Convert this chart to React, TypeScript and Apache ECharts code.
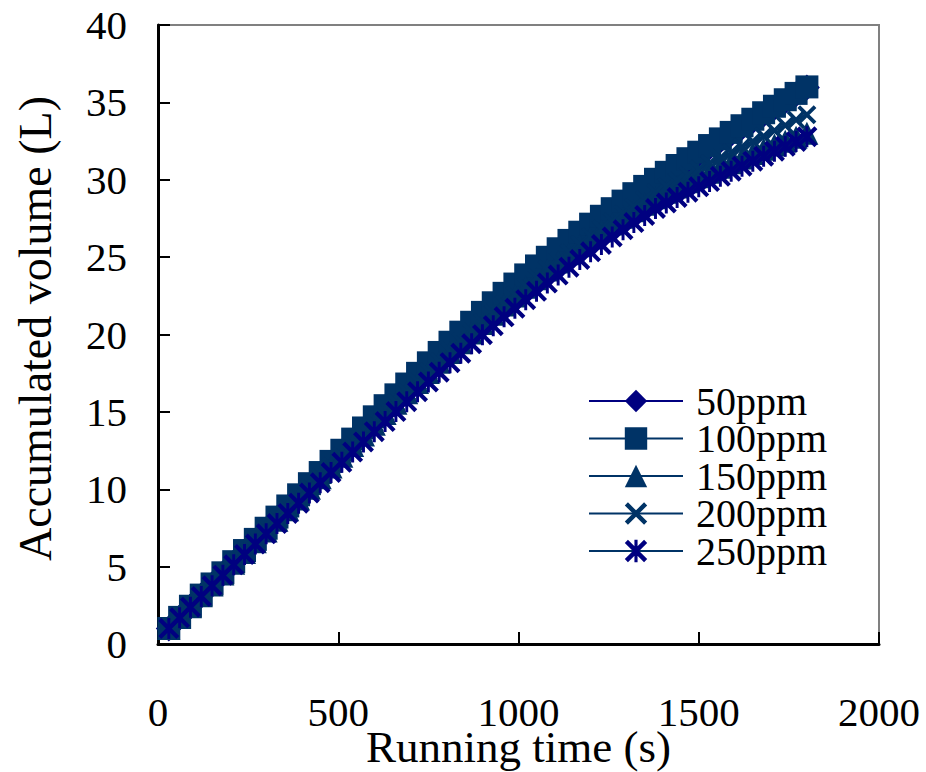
import React, { useEffect, useRef } from "react";
import * as echarts from "echarts";

const times = [30, 60, 90, 120, 150, 180, 210, 240, 270, 300, 330, 360, 390, 420, 450, 480, 510, 540, 570, 600,
  630, 660, 690, 720, 750, 780, 810, 840, 870, 900, 930, 960, 990, 1020, 1050, 1080, 1110, 1140, 1170, 1200,
  1230, 1260, 1290, 1320, 1350, 1380, 1410, 1440, 1470, 1500, 1530, 1560, 1590, 1620, 1650, 1680, 1710, 1740, 1770, 1800];

const ppm50 = [1.0, 1.71, 2.42, 3.13, 3.85, 4.56, 5.27, 5.98, 6.69, 7.4, 8.11, 8.82, 9.54, 10.25, 10.97, 11.69, 12.41, 13.13, 13.85, 14.57,
  15.29, 15.99, 16.69, 17.38, 18.06, 18.73, 19.39, 20.04, 20.68, 21.32, 21.94, 22.55, 23.15, 23.74, 24.32, 24.88, 25.43, 25.97, 26.5, 27.02,
  27.53, 28.02, 28.51, 28.99, 29.46, 29.92, 30.37, 30.81, 31.25, 31.67, 32.1, 32.53, 32.95, 33.38, 33.8, 34.22, 34.65, 35.08, 35.52, 35.96];

const ppm100 = [1.0, 1.72, 2.44, 3.16, 3.88, 4.6, 5.32, 6.04, 6.76, 7.48, 8.2, 8.92, 9.64, 10.36, 11.08, 11.8, 12.52, 13.24, 13.96, 14.68,
  15.4, 16.1, 16.8, 17.49, 18.17, 18.84, 19.5, 20.15, 20.79, 21.43, 22.05, 22.66, 23.26, 23.85, 24.43, 24.99, 25.54, 26.08, 26.61, 27.13,
  27.64, 28.13, 28.62, 29.1, 29.57, 30.03, 30.48, 30.92, 31.36, 31.78, 32.21, 32.64, 33.06, 33.49, 33.91, 34.33, 34.75, 35.17, 35.58, 36.0];

const ppm150 = [1.0, 1.71, 2.41, 3.12, 3.82, 4.53, 5.22, 5.92, 6.61, 7.3, 7.99, 8.68, 9.37, 10.06, 10.75, 11.44, 12.13, 12.82, 13.51, 14.2,
  14.89, 15.56, 16.23, 16.9, 17.55, 18.2, 18.84, 19.47, 20.1, 20.71, 21.31, 21.9, 22.48, 23.05, 23.61, 24.16, 24.69, 25.22, 25.73, 26.24,
  26.69, 27.14, 27.58, 28.0, 28.42, 28.84, 29.19, 29.53, 29.87, 30.19, 30.49, 30.8, 31.1, 31.4, 31.69, 31.97, 32.25, 32.49, 32.75, 33.01];

const ppm200 = [1.0, 1.71, 2.41, 3.12, 3.83, 4.53, 5.23, 5.93, 6.63, 7.32, 8.01, 8.7, 9.4, 10.09, 10.78, 11.48, 12.17, 12.86, 13.56, 14.25,
  14.94, 15.61, 16.29, 16.95, 17.61, 18.26, 18.91, 19.54, 20.16, 20.78, 21.38, 21.98, 22.56, 23.13, 23.69, 24.24, 24.78, 25.3, 25.82, 26.32,
  26.82, 27.31, 27.79, 28.26, 28.72, 29.18, 29.57, 29.95, 30.32, 30.68, 31.05, 31.41, 31.75, 32.13, 32.47, 32.81, 33.18, 33.51, 33.87, 34.2];

const ppm250 = [1.0, 1.69, 2.38, 3.07, 3.76, 4.45, 5.12, 5.79, 6.46, 7.12, 7.78, 8.44, 9.1, 9.76, 10.42, 11.08, 11.74, 12.4, 13.06, 13.72,
  14.37, 15.02, 15.66, 16.3, 16.93, 17.56, 18.18, 18.79, 19.4, 19.99, 20.57, 21.14, 21.7, 22.25, 22.79, 23.32, 23.84, 24.35, 24.85, 25.34,
  25.82, 26.3, 26.77, 27.23, 27.69, 28.14, 28.5, 28.85, 29.2, 29.54, 29.88, 30.22, 30.55, 30.88, 31.2, 31.52, 31.84, 32.16, 32.47, 32.78];

const seriesNames = ["50ppm", "100ppm", "150ppm", "200ppm", "250ppm"];
const xTitle = "Running time (s)";
const yTitle = "Accumulated volume (L)";

const FONT = "'Liberation Serif', 'Times New Roman', serif";
const NAVY = "#000080";
const DARK = "#003366";

const X_PATH = "path://M0,1.4L1.4,0L5,3.6L8.6,0L10,1.4L6.4,5L10,8.6L8.6,10L5,6.4L1.4,10L0,8.6L3.6,5Z";
const STAR_PATH = "path://M0,1.4L1.4,0L5,3.6L8.6,0L10,1.4L6.4,5L10,8.6L8.6,10L5,6.4L1.4,10L0,8.6L3.6,5Z M4.3,0L5.7,0L5.7,10L4.3,10Z";

export default function App() {
  const ref = useRef<HTMLDivElement>(null);

  useEffect(() => {
    if (!ref.current) return;
    const chart = echarts.init(ref.current, undefined, { renderer: "svg" });

    const pairs = (ys: number[]) => times.map((t, i) => [t, ys[i]]);
    const defs = [
      { name: seriesNames[0], data: ppm50, symbol: "diamond", size: 26, color: NAVY, line: NAVY },
      { name: seriesNames[1], data: ppm100, symbol: "rect", size: 23, color: DARK, line: DARK },
      { name: seriesNames[2], data: ppm150, symbol: "triangle", size: 23, color: DARK, line: DARK },
      { name: seriesNames[3], data: ppm200, symbol: X_PATH, size: 19, color: DARK, line: DARK },
      { name: seriesNames[4], data: ppm250, symbol: STAR_PATH, size: 21, color: NAVY, line: DARK },
    ];

    chart.setOption({
      animation: false,
      backgroundColor: "#ffffff",
      grid: {
        left: 158,
        right: 47,
        top: 25,
        bottom: 128,
        show: true,
        borderColor: "#808080",
        borderWidth: 2,
        backgroundColor: "transparent",
        outerBoundsMode: "none",
        containLabel: false,
      },
      legend: {
        orient: "vertical",
        left: 583,
        top: 376,
        itemWidth: 94,
        itemHeight: 28,
        itemGap: -2.5,
        textStyle: {
          fontFamily: FONT,
          fontSize: 40,
          color: "#000",
          lineHeight: 37.5,
          padding: [0, 0, 0, 8],
        },
        data: seriesNames,
      },
      xAxis: {
        type: "value",
        min: 0,
        max: 2000,
        interval: 500,
        name: xTitle,
        nameLocation: "middle",
        nameGap: 80,
        nameMoveOverlap: false,
        nameTextStyle: { fontFamily: FONT, fontSize: 45, color: "#000" },
        axisLine: { show: true, lineStyle: { color: "#000", width: 3 } },
        axisTick: { show: true, inside: true, length: 12, lineStyle: { color: "#000", width: 2 } },
        axisLabel: {
          fontFamily: FONT,
          fontSize: 41,
          color: "#000",
          margin: 47,
          formatter: (v: number) => String(v),
        },
        splitLine: { show: false },
      },
      yAxis: {
        type: "value",
        min: 0,
        max: 40,
        interval: 5,
        name: yTitle,
        nameLocation: "middle",
        nameRotate: 90,
        nameGap: 100,
        nameMoveOverlap: false,
        nameTextStyle: { fontFamily: FONT, fontSize: 46, color: "#000", padding: [0, 0, 0, 12] },
        axisLine: { show: true, lineStyle: { color: "#000", width: 3 } },
        axisTick: { show: true, inside: true, length: 12, lineStyle: { color: "#000", width: 2 } },
        axisLabel: {
          fontFamily: FONT,
          fontSize: 41,
          color: "#000",
          margin: 31,
          formatter: (v: number) => String(v),
        },
        splitLine: { show: false },
      },
      series: defs.map((d) => ({
        name: d.name,
        type: "line",
        data: pairs(d.data),
        symbol: d.symbol,
        symbolSize: d.size,
        showAllSymbol: true,
        itemStyle: { color: d.color },
        lineStyle: { color: d.line, width: 3 },
        emphasis: { disabled: true },
      })),
    });

    return () => chart.dispose();
  }, []);

  return (
    <div
      ref={ref}
      style={{ position: "fixed", left: 0, top: 0, width: 926, height: 772, background: "#fff" }}
    />
  );
}
